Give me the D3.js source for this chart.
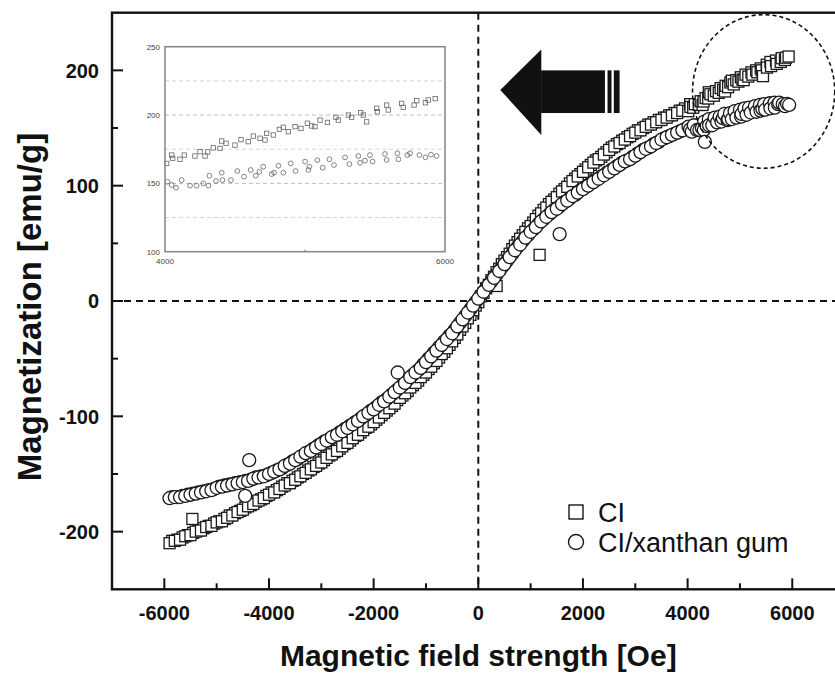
<!DOCTYPE html>
<html>
<head>
<meta charset="utf-8">
<script src="https://cdn.jsdelivr.net/npm/d3@7"></script>
<style>
  body { margin: 0; background: #fff; }
  svg { display: block; }
</style>
</head>
<body>
<svg id="chart" width="835" height="676"></svg>
<script>
// ---- axis ticks ----
const xTicks = [-6000, -4000, -2000, 0, 2000, 4000, 6000];
const xMinorTicks = [-5000, -3000, -1000, 1000, 3000, 5000];
const yTicks = [-200, -100, 0, 100, 200];
const yMinorTicks = [-150, -50, 50, 150];
const insetYTicks = [100, 150, 200, 250];
const insetGrid = [125, 150, 175, 200, 225];
const insetXTicks = [4000, 6000];
const insetXMinor = [5000];
const seriesNames = ["CI", "CI/xanthan gum"];

// ---- magnetization sweeps: [field (Oe), magnetization (emu/g)] ----
// CI, outbound sweep
const ciSweep = [
  [-5900,-210],[-5800,-208],[-5700,-207],[-5600,-204],[-5500,-203],[-5400,-200],[-5300,-199],[-5200,-196],
  [-5100,-195],[-5000,-192],[-4900,-191],[-4800,-188],[-4700,-186],[-4600,-183],[-4500,-181],[-4400,-178],
  [-4300,-176],[-4200,-173],[-4100,-171],[-4000,-168],[-3900,-166],[-3800,-163],[-3700,-160],[-3600,-158],
  [-3500,-155],[-3400,-152],[-3300,-149],[-3200,-146],[-3100,-143],[-3000,-140],[-2900,-136],[-2800,-133],
  [-2700,-130],[-2600,-126],[-2500,-123],[-2400,-119],[-2300,-116],[-2200,-112],[-2100,-109],[-2000,-105],
  [-1900,-101],[-1800,-97],[-1700,-93],[-1600,-89],[-1500,-84],[-1400,-80],[-1300,-75],[-1200,-71],
  [-1100,-66],[-1000,-62],[-900,-57],[-800,-52],[-700,-46],[-600,-41],[-500,-35],[-400,-29],
  [-300,-22],[-200,-15],[-100,-8],[0,-1],[100,7],[200,14],[300,21],[400,28],
  [500,35],[600,41],[700,48],[800,54],[900,60],[1000,65],[1100,71],[1200,76],
  [1300,81],[1400,86],[1500,90],[1600,95],[1700,99],[1800,104],[1900,108],[2000,112],
  [2100,116],[2200,120],[2300,123],[2400,127],[2500,131],[2600,134],[2700,137],[2800,140],
  [2900,143],[3000,146],[3100,148],[3200,151],[3300,153],[3400,155],[3500,157],[3600,159],
  [3700,161],[3800,163],[3900,165],
  [4012,164.6],[4048,170.7],[4055,168.3],[4107,167.6],[4138,170.7],[4214,170],[4250,173.2],[4286,170],
  [4305,173],[4345,176],[4393,175.6],[4405,181],[4436,179.3],[4500,178],[4543,182],[4595,180.5],
  [4631,184.6],[4679,183],[4714,181.7],[4726,186.6],[4774,185.4],[4817,189.5],[4845,191],[4881,187.8],
  [4929,191.5],[4971,190.2],[5017,194],[5048,192],[5071,191.5],[5107,196.3],[5160,194.6],[5221,198.3],
  [5238,196.3],[5310,200],[5333,198.3],[5398,201.7],[5417,200],[5440,195],[5512,204.9],[5517,202.4],
  [5583,207.3],[5595,203.7],[5690,208.5],[5702,205.6],[5779,207.3],[5798,210.5],[5860,209],[5880,211],
  [5930,212]
];
// CI, return sweep
const ciReturn = [
  [-5850,-208],[-5750,-207],[-5650,-205],[-5550,-203],[-5450,-201],[-5350,-199],[-5250,-197],[-5150,-195],
  [-5050,-193],[-4950,-191],[-4850,-189],[-4750,-186],[-4650,-184],[-4550,-182],[-4450,-179],[-4350,-177],
  [-4250,-174],[-4150,-172],[-4050,-169],[-3950,-166],[-3850,-164],[-3750,-161],[-3650,-158],[-3550,-156],
  [-3450,-153],[-3350,-150],[-3250,-147],[-3150,-144],[-3050,-141],[-2950,-138],[-2850,-134],[-2750,-131],
  [-2650,-128],[-2550,-124],[-2450,-121],[-2350,-117],[-2250,-114],[-2150,-110],[-2050,-107],[-1950,-103],
  [-1850,-99],[-1750,-95],[-1650,-91],[-1550,-86],[-1450,-82],[-1350,-78],[-1250,-73],[-1150,-69],
  [-1050,-64],[-950,-59],[-850,-54],[-750,-49],[-650,-44],[-550,-38],[-450,-32],[-350,-25],
  [-250,-19],[-150,-12],[-50,-4],[50,4],[150,11],[250,18],[350,25],[450,32],
  [550,38],[650,45],[750,51],[850,57],[950,63],[1050,68],[1150,74],[1250,79],
  [1350,84],[1450,88],[1550,93],[1650,97],[1750,102],[1850,106],[1950,110],[2050,114],
  [2150,118],[2250,122],[2350,125],[2450,129],[2550,133],[2650,136],[2750,139],[2850,142],
  [2950,145],[3050,148],[3150,150],[3250,153],[3350,155],[3450,157],[3550,159],[3650,161],
  [3750,163],[3850,165],[3950,167]
];

// CI/xanthan gum, outbound sweep
const xgSweep = [
  [-5900,-171],[-5800,-170],[-5700,-170],[-5600,-169],[-5500,-168],[-5400,-167],[-5300,-166],[-5200,-165],
  [-5100,-164],[-5000,-162],[-4900,-161],[-4800,-160],[-4700,-159],[-4600,-158],[-4500,-157],[-4400,-156],
  [-4300,-154],[-4200,-153],[-4100,-152],[-4000,-150],[-3900,-148],[-3800,-146],[-3700,-143],[-3600,-141],
  [-3500,-138],[-3400,-135],[-3300,-132],[-3200,-130],[-3100,-127],[-3000,-124],[-2900,-121],[-2800,-118],
  [-2700,-116],[-2600,-113],[-2500,-110],[-2400,-107],[-2300,-104],[-2200,-100],[-2100,-97],[-2000,-94],
  [-1900,-90],[-1800,-87],[-1700,-83],[-1600,-79],[-1500,-75],[-1400,-71],[-1300,-66],[-1200,-62],
  [-1100,-58],[-1000,-53],[-900,-48],[-800,-43],[-700,-38],[-600,-33],[-500,-28],[-400,-22],
  [-300,-16],[-200,-10],[-100,-4],[0,2],[100,8],[200,14],[300,20],[400,26],
  [500,32],[600,38],[700,44],[800,49],[900,55],[1000,60],[1100,64],[1200,69],
  [1300,73],[1400,77],[1500,80],[1600,84],[1700,87],[1800,91],[1900,94],[2000,97],
  [2100,100],[2200,103],[2300,106],[2400,109],[2500,112],[2600,115],[2700,118],[2800,121],
  [2900,123],[3000,126],[3100,129],[3200,132],[3300,134],[3400,137],[3500,140],[3600,142],
  [3700,144],[3800,146],[3900,148],
  [4017,151.2],[4048,148.8],[4079,146.8],[4119,152.4],[4179,148.3],[4226,148.3],[4274,150],[4310,148.3],
  [4317,155.6],[4364,151.7],[4405,157.8],[4410,152.4],[4471,152.4],[4517,159],[4564,154.9],[4612,159.8],
  [4648,155.6],[4674,158.5],[4702,162.2],[4762,156.8],[4779,157.8],[4810,162.9],[4845,157.8],[4898,164.6],
  [4933,159],[5000,165.9],[5024,159.8],[5031,162.2],[5088,167],[5126,161.5],[5174,167.6],[5207,163.4],
  [5286,169],[5317,164.1],[5381,170],[5393,165.1],[5429,166.6],[5464,170.7],[5483,165.9],[5571,171.5],
  [5583,167.1],[5660,172],[5667,167.6],[5731,170.7],[5750,172],[5817,170.7],[5860,169],[5900,171],
  [5940,170]
];
// CI/xanthan gum, return sweep
const xgReturn = [
  [-5850,-170],[-5750,-170],[-5650,-169],[-5550,-168],[-5450,-167],[-5350,-166],[-5250,-165],[-5150,-164],
  [-5050,-163],[-4950,-161],[-4850,-160],[-4750,-159],[-4650,-158],[-4550,-157],[-4450,-156],[-4350,-155],
  [-4250,-153],[-4150,-152],[-4050,-151],[-3950,-149],[-3850,-147],[-3750,-145],[-3650,-142],[-3550,-139],
  [-3450,-137],[-3350,-134],[-3250,-131],[-3150,-128],[-3050,-125],[-2950,-122],[-2850,-120],[-2750,-117],
  [-2650,-114],[-2550,-111],[-2450,-108],[-2350,-105],[-2250,-102],[-2150,-99],[-2050,-95],[-1950,-92],
  [-1850,-88],[-1750,-85],[-1650,-81],[-1550,-77],[-1450,-73],[-1350,-68],[-1250,-64],[-1150,-60],
  [-1050,-55],[-950,-50],[-850,-45],[-750,-40],[-650,-35],[-550,-30],[-450,-25],[-350,-19],
  [-250,-13],[-150,-7],[-50,-1],[50,5],[150,11],[250,17],[350,23],[450,29],
  [550,35],[650,41],[750,47],[850,52],[950,57],[1050,62],[1150,67],[1250,71],
  [1350,75],[1450,79],[1550,82],[1650,86],[1750,89],[1850,92],[1950,96],[2050,99],
  [2150,102],[2250,105],[2350,108],[2450,111],[2550,114],[2650,117],[2750,120],[2850,122],
  [2950,125],[3050,128],[3150,131],[3250,133],[3350,136],[3450,138],[3550,141],[3650,143],
  [3750,145],[3850,147],[3950,149]
];

// stray readings off the main sweeps
const ciStray = [[-5464,-189],[1171,40],[350,13]];
const xgStray = [[-4378,-138],[-4455,-169],[-1540,-62],[1554,58],[4329,138]];

// annotation geometry, in data units
const arrowHead = { tipH: 420, tipM: 183, baseH: 1204, topM: 218, bottomM: 144 };
const arrowShaft = { topM: 200, bottomM: 163, bands: [[1200, 2420], [2470, 2545], [2590, 2700]] };
const zoomRing = { h: 5453, m: 181.7, rh: 1359, rm: 66.6 };

// ---- layout ----
const svg = d3.select("#chart");
const x = d3.scaleLinear().domain([-7000, 7000]).range([112, 844.6]);
const y = d3.scaleLinear().domain([-250, 250]).range([589.3, 12.7]);
const ix = d3.scaleLinear().domain([4000, 6000]).range([165, 445]);
const iy = d3.scaleLinear().domain([100, 250]).range([251.7, 46.7]);

const ink = "#111";
const fontMain = "'Liberation Sans', Arial, Helvetica, sans-serif";

// zero reference lines
svg.append("line")
  .attr("x1", x(-7000)).attr("x2", x(7000)).attr("y1", y(0)).attr("y2", y(0))
  .attr("stroke", ink).attr("stroke-width", 2).attr("stroke-dasharray", "7,5");
svg.append("line")
  .attr("x1", x(0)).attr("x2", x(0)).attr("y1", y(250)).attr("y2", y(-250))
  .attr("stroke", ink).attr("stroke-width", 2).attr("stroke-dasharray", "7,5");

// ---- inset (4000–6000 Oe close-up) ----
const inset = svg.append("g");
inset.append("rect")
  .attr("x", ix(4000)).attr("y", iy(250))
  .attr("width", ix(6000) - ix(4000)).attr("height", iy(100) - iy(250))
  .attr("fill", "#fff");
inset.selectAll("line.grid").data(insetGrid).enter().append("line")
  .attr("x1", ix(4000)).attr("x2", ix(6000))
  .attr("y1", d => iy(d)).attr("y2", d => iy(d))
  .attr("stroke", d => (d % 50 === 0 ? "#bdbdbd" : "#d4d4d4"))
  .attr("stroke-width", 1).attr("stroke-dasharray", "4,3");
inset.selectAll("line.ixm").data(insetXMinor).enter().append("line")
  .attr("x1", d => ix(d)).attr("x2", d => ix(d))
  .attr("y1", iy(100)).attr("y2", iy(100) - 2)
  .attr("stroke", "#777").attr("stroke-width", 1);
const inCi = ciSweep.filter(d => d[0] >= 4000 && d[0] <= 6000);
const inXg = xgSweep.filter(d => d[0] >= 4000 && d[0] <= 6000);
inset.selectAll("rect.isq").data(inCi).enter().append("rect")
  .attr("x", d => ix(d[0]) - 2.2).attr("y", d => iy(d[1]) - 2.2)
  .attr("width", 4.4).attr("height", 4.4)
  .attr("fill", "none").attr("stroke", "#666").attr("stroke-width", 0.8);
inset.selectAll("circle.ici").data(inXg).enter().append("circle")
  .attr("cx", d => ix(d[0])).attr("cy", d => iy(d[1])).attr("r", 2.4)
  .attr("fill", "none").attr("stroke", "#666").attr("stroke-width", 0.8);
inset.append("rect")
  .attr("x", ix(4000)).attr("y", iy(250))
  .attr("width", ix(6000) - ix(4000)).attr("height", iy(100) - iy(250))
  .attr("fill", "none").attr("stroke", "#8a8a8a").attr("stroke-width", 1.6);
inset.selectAll("text.iy").data(insetYTicks).enter().append("text")
  .attr("x", ix(4000) - 5).attr("y", d => iy(d)).attr("dy", "0.35em")
  .attr("text-anchor", "end").attr("font-family", fontMain).attr("font-size", 8)
  .attr("fill", "#444").text(d => d);
inset.selectAll("text.ix").data(insetXTicks).enter().append("text")
  .attr("x", d => ix(d)).attr("y", iy(100) + 12)
  .attr("text-anchor", "middle").attr("font-family", fontMain).attr("font-size", 8)
  .attr("fill", "#444").text(d => d);

// ---- direction arrow ----
const arrow = svg.append("g").attr("fill", ink);
arrow.append("path")
  .attr("d", `M${x(arrowHead.tipH)},${y(arrowHead.tipM)}` +
             `L${x(arrowHead.baseH)},${y(arrowHead.topM)}` +
             `L${x(arrowHead.baseH)},${y(arrowHead.bottomM)}Z`);
arrow.selectAll("rect").data(arrowShaft.bands).enter().append("rect")
  .attr("x", d => x(d[0])).attr("width", d => x(d[1]) - x(d[0]))
  .attr("y", y(arrowShaft.topM)).attr("height", y(arrowShaft.bottomM) - y(arrowShaft.topM));

// ---- data markers ----
const marks = svg.append("g").attr("stroke", "#1a1a1a").attr("stroke-width", 1.3).attr("fill", "#fff");
const sq = 11, cr = 6.5;
const ciAll = ciReturn.concat(ciSweep, ciStray);
const xgAll = xgReturn.concat(xgSweep, xgStray);
marks.selectAll("rect.ci").data(ciAll).enter().append("rect")
  .attr("x", d => x(d[0]) - sq / 2).attr("y", d => y(d[1]) - sq / 2)
  .attr("width", sq).attr("height", sq);
marks.selectAll("circle.xg").data(xgAll).enter().append("circle")
  .attr("cx", d => x(d[0])).attr("cy", d => y(d[1])).attr("r", cr);

// dashed ring around the high-field region
svg.append("ellipse")
  .attr("cx", x(zoomRing.h)).attr("cy", y(zoomRing.m))
  .attr("rx", x(zoomRing.h + zoomRing.rh) - x(zoomRing.h))
  .attr("ry", y(zoomRing.m - zoomRing.rm) - y(zoomRing.m))
  .attr("fill", "none").attr("stroke", ink).attr("stroke-width", 1.6).attr("stroke-dasharray", "4,3");

// ---- frame and ticks ----
svg.append("rect")
  .attr("x", x(-7000)).attr("y", y(250))
  .attr("width", x(7000) - x(-7000)).attr("height", y(-250) - y(250))
  .attr("fill", "none").attr("stroke", ink).attr("stroke-width", 2.4);

const ticks = svg.append("g").attr("stroke", ink).attr("stroke-width", 2);
ticks.selectAll("line.xt").data(xTicks).enter().append("line")
  .attr("x1", d => x(d)).attr("x2", d => x(d)).attr("y1", y(-250)).attr("y2", y(-250) - 11);
ticks.selectAll("line.xm").data(xMinorTicks).enter().append("line")
  .attr("x1", d => x(d)).attr("x2", d => x(d)).attr("y1", y(-250)).attr("y2", y(-250) - 6);
ticks.selectAll("line.yt").data(yTicks).enter().append("line")
  .attr("x1", x(-7000)).attr("x2", x(-7000) + 11).attr("y1", d => y(d)).attr("y2", d => y(d));
ticks.selectAll("line.ym").data(yMinorTicks).enter().append("line")
  .attr("x1", x(-7000)).attr("x2", x(-7000) + 6).attr("y1", d => y(d)).attr("y2", d => y(d));

svg.selectAll("text.xl").data(xTicks).enter().append("text")
  .attr("x", d => x(d)).attr("y", y(-250) + 31)
  .attr("text-anchor", "middle").attr("font-family", fontMain).attr("font-weight", "bold")
  .attr("font-size", 20).attr("fill", ink).text(d => d);
svg.selectAll("text.yl").data(yTicks).enter().append("text")
  .attr("x", x(-7000) - 13).attr("y", d => y(d)).attr("dy", "0.36em")
  .attr("text-anchor", "end").attr("font-family", fontMain).attr("font-weight", "bold")
  .attr("font-size", 20).attr("fill", ink).text(d => d);

// axis titles
svg.append("text")
  .attr("x", x(0)).attr("y", 666)
  .attr("text-anchor", "middle").attr("font-family", fontMain).attr("font-weight", "bold")
  .attr("font-size", 30).attr("fill", ink)
  .text("Magnetic field strength [Oe]");
svg.append("text")
  .attr("transform", `translate(41,${y(0) + 6}) rotate(-90)`)
  .attr("text-anchor", "middle").attr("font-family", fontMain).attr("font-weight", "bold")
  .attr("font-size", 33).attr("fill", ink)
  .text("Magnetization [emu/g]");

// ---- legend ----
const legend = svg.append("g").attr("font-family", fontMain).attr("font-size", 27).attr("fill", ink);
const legendRows = [512, 542];
legend.append("rect")
  .attr("x", 569).attr("y", legendRows[0] - 7).attr("width", 14).attr("height", 14)
  .attr("fill", "#fff").attr("stroke", "#1a1a1a").attr("stroke-width", 1.4);
legend.append("circle")
  .attr("cx", 576).attr("cy", legendRows[1]).attr("r", 7.5)
  .attr("fill", "#fff").attr("stroke", "#1a1a1a").attr("stroke-width", 1.4);
legend.selectAll("text").data(seriesNames).enter().append("text")
  .attr("x", 598).attr("y", (d, i) => legendRows[i]).attr("dy", "0.36em")
  .text(d => d);
</script>
</body>
</html>
